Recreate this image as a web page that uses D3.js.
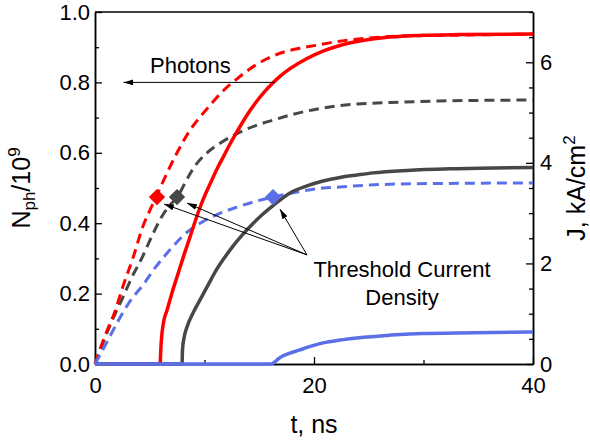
<!DOCTYPE html>
<html>
<head>
<meta charset="utf-8">
<script src="https://cdn.jsdelivr.net/npm/d3@7"></script>
<style>
  body { margin: 0; background: #fff; }
  svg text { font-family: "Liberation Sans", Arial, sans-serif; }
</style>
</head>
<body>
<div id="chart"></div>
<script>
// current density J (kA/cm2, right axis) - dashed curves, [t, J]
const jRed = [[0,0],[0.91,0.56],[1.83,1.05],[2.56,1.55],[3.47,2.11],[4.38,2.74],[5.02,3.06],[5.66,3.36],
  [6.58,3.80],[7.49,4.20],[8.68,4.65],[9.59,4.91],[10.68,5.19],[11.69,5.43],[12.97,5.67],[14.16,5.87],
  [15.71,6.07],[17.17,6.20],[18.72,6.28],[20.27,6.34],[21.74,6.40],[24.84,6.48],[27.85,6.52],[33.06,6.54],[40,6.56]];
const jGray = [[0,0],[0.73,0.42],[1.55,0.86],[2.47,1.29],[3.38,1.73],[4.29,2.11],[5.21,2.55],[6.12,2.94],
  [6.85,3.16],[7.58,3.34],[8.22,3.60],[8.95,3.88],[10.23,4.20],[11.42,4.39],[13.24,4.61],[14.79,4.75],
  [16.26,4.85],[17.81,4.95],[19.36,5.03],[20.82,5.09],[23.93,5.17],[26.94,5.20],[31.51,5.23],[40,5.25]];
const jBlue = [[0,0],[0.46,0.18],[1.10,0.44],[2.10,0.85],[3.20,1.25],[4.38,1.57],[5.48,1.91],[6.85,2.27],
  [8.40,2.62],[9.77,2.82],[11.23,2.98],[12.97,3.12],[14.43,3.22],[16.26,3.32],[18.45,3.42],[20.82,3.50],
  [22.37,3.52],[25.11,3.56],[27.85,3.58],[31.51,3.59],[40,3.60]];

// photon number N/10^9 (left axis) - solid curves, [t, N]
const nRed = [[0,0],[5.94,0],[6.03,0.054],[6.12,0.088],[6.30,0.125],[6.58,0.153],[7.03,0.202],[7.58,0.256],
  [8.13,0.310],[8.68,0.361],[9.22,0.412],[9.86,0.466],[10.50,0.511],[11.14,0.554],[11.78,0.592],
  [12.33,0.625],[12.97,0.660],[13.52,0.689],[14.16,0.720],[14.79,0.747],[15.53,0.775],[16.26,0.799],
  [17.0,0.820],[17.81,0.839],[19.36,0.868],[20.82,0.889],[22.37,0.905],[23.93,0.916],[26.94,0.929],
  [29.95,0.934],[33.33,0.936],[40,0.9375]];
const nGray = [[0,0],[7.95,0],[7.99,0.040],[8.13,0.074],[8.40,0.105],[8.95,0.145],[9.59,0.182],[10.32,0.224],
  [11.14,0.270],[11.87,0.304],[12.60,0.335],[13.52,0.369],[14.43,0.399],[15.34,0.426],[16.26,0.450],
  [17.81,0.486],[19.36,0.506],[20.82,0.520],[22.37,0.530],[23.93,0.537],[25.39,0.543],[28.49,0.550],
  [33.06,0.555],[40,0.558]];
const nBlue = [[0,0],[16.07,0],[16.44,0.006],[16.71,0.014],[17.17,0.023],[17.81,0.031],[18.72,0.040],
  [19.36,0.047],[20.82,0.060],[22.37,0.068],[23.93,0.074],[26.94,0.082],[29.95,0.087],[33.06,0.088],[40,0.091]];

// threshold current density points
const thresholdT = [5.66, 7.49, 16.26];
const thresholdJ = 3.32;

const xTicks = [0, 20, 40];
const yLeftTicks = [0, 0.2, 0.4, 0.6, 0.8, 1.0];
const yRightTicks = [0, 2, 4, 6];

const colRed = "#ff0000", colGray = "#474747", colBlue = "#5b70e8";

const W = 590, H = 446;
const margin = { top: 12, right: 57, bottom: 82, left: 95 };
const width = W - margin.left - margin.right,
  height = H - margin.top - margin.bottom;

const svg = d3.select("#chart").append("svg")
  .attr("width", W).attr("height", H);

const defs = svg.append("defs");
defs.append("marker")
  .attr("id", "arrow")
  .attr("viewBox", "0 0 10 6")
  .attr("refX", 10).attr("refY", 3)
  .attr("markerWidth", 10).attr("markerHeight", 6)
  .attr("markerUnits", "userSpaceOnUse")
  .attr("orient", "auto")
  .append("path")
  .attr("d", "M0,0L10,3L0,6Z")
  .attr("fill", "#000");

const g = svg.append("g")
  .attr("transform", "translate(" + margin.left + "," + margin.top + ")");

const x = d3.scaleLinear().domain([0, 40]).range([0, width]);
const yL = d3.scaleLinear().domain([0, 1]).range([height, 0]);
const yR = d3.scaleLinear().domain([0, 7]).range([height, 0]);

// frame line on top
g.append("line").attr("x1", 0).attr("x2", width).attr("y1", 0).attr("y2", 0)
  .attr("stroke", "#000").attr("stroke-width", 1.5);

function styleAxis(sel) {
  sel.selectAll("path.domain").attr("stroke", "#000").attr("stroke-width", 1.5);
  sel.selectAll(".tick line").attr("stroke", "#000").attr("stroke-width", 1.3);
  sel.selectAll("text").attr("font-size", 22).attr("fill", "#000")
    .style("font-family", "'Liberation Sans', Arial, sans-serif");
}

// minor ticks first
g.append("g").attr("transform", "translate(0," + height + ")")
  .call(d3.axisBottom(x).tickValues([10, 30]).tickSize(-4).tickFormat("").tickSizeOuter(0))
  .call(styleAxis);
g.append("g")
  .call(d3.axisLeft(yL).tickValues(d3.range(0.1, 1, 0.2)).tickSize(-4).tickFormat("").tickSizeOuter(0))
  .call(styleAxis);
g.append("g").attr("transform", "translate(" + width + ",0)")
  .call(d3.axisRight(yR).tickValues(d3.range(0.5, 7.01, 0.5).filter(v => v % 2 !== 0)).tickSize(-4).tickFormat("").tickSizeOuter(0))
  .call(styleAxis);

// major axes
g.append("g").attr("transform", "translate(0," + height + ")")
  .call(d3.axisBottom(x).tickValues(xTicks).tickSize(-7).tickPadding(13).tickSizeOuter(0).tickFormat(d3.format("d")))
  .call(styleAxis);
g.append("g")
  .call(d3.axisLeft(yL).tickValues(yLeftTicks).tickSize(-7).tickPadding(5).tickSizeOuter(0).tickFormat(d3.format(".1f")))
  .call(styleAxis);
g.append("g").attr("transform", "translate(" + width + ",0)")
  .call(d3.axisRight(yR).tickValues(yRightTicks).tickSize(-7).tickPadding(7).tickSizeOuter(0).tickFormat(d3.format("d")))
  .call(styleAxis);

// curves
const lineJ = d3.line().x(d => x(d[0])).y(d => yR(d[1])).curve(d3.curveMonotoneX);
const lineN = d3.line().x(d => x(d[0])).y(d => yL(d[1])).curve(d3.curveMonotoneX);

const dashed = [[jGray, colGray], [jRed, colRed], [jBlue, colBlue]];
dashed.forEach(function (s) {
  g.append("path").datum(s[0])
    .attr("fill", "none").attr("stroke", s[1]).attr("stroke-width", 3)
    .attr("stroke-dasharray", "10,6")
    .attr("d", lineJ);
});

const solid = [[nRed, colRed], [nGray, colGray], [nBlue, colBlue]];
solid.forEach(function (s) {
  g.append("path").datum(s[0])
    .attr("fill", "none").attr("stroke", s[1]).attr("stroke-width", 3.5)
    .attr("stroke-linejoin", "round")
    .attr("d", lineN);
});

// threshold diamonds
const diamondCols = [colRed, colGray, colBlue];
g.selectAll(".thr").data(thresholdT).enter().append("path")
  .attr("class", "thr")
  .attr("transform", d => "translate(" + x(d) + "," + yR(thresholdJ) + ")")
  .attr("d", d3.symbol().type(d3.symbolDiamond2).size(170))
  .attr("fill", (d, i) => diamondCols[i]);

// annotations
g.append("line")
  .attr("x1", x(16.4)).attr("y1", yL(0.8))
  .attr("x2", x(2.6)).attr("y2", yL(0.8))
  .attr("stroke", "#000").attr("stroke-width", 1)
  .attr("marker-end", "url(#arrow)");
g.append("text")
  .attr("x", x(5.02)).attr("y", yL(0.828))
  .attr("font-size", 22).text("Photons");

const arrowFrom = [19.36, 2.17];
const arrowTo = [[6.3, 3.18], [8.4, 3.2], [16.89, 3.08]];
arrowTo.forEach(function (p) {
  g.append("line")
    .attr("x1", x(arrowFrom[0])).attr("y1", yR(arrowFrom[1]))
    .attr("x2", x(p[0])).attr("y2", yR(p[1]))
    .attr("stroke", "#000").attr("stroke-width", 1)
    .attr("marker-end", "url(#arrow)");
});
g.append("text")
  .attr("x", x(28.04)).attr("y", yR(1.73))
  .attr("text-anchor", "middle").attr("font-size", 22).text("Threshold Current");
g.append("text")
  .attr("x", x(28.04)).attr("y", yR(1.17))
  .attr("text-anchor", "middle").attr("font-size", 22).text("Density");

// axis titles
svg.append("text")
  .attr("x", margin.left + width / 2).attr("y", 433)
  .attr("text-anchor", "middle").attr("font-size", 25).text("t, ns");

const yt = svg.append("text")
  .attr("transform", "translate(30," + (margin.top + height / 2) + ") rotate(-90)")
  .attr("text-anchor", "middle").attr("font-size", 25);
yt.append("tspan").text("N");
yt.append("tspan").attr("font-size", 17).attr("dy", 5).text("ph");
yt.append("tspan").attr("dy", -5).text("/10");
yt.append("tspan").attr("font-size", 17).attr("dy", -10).text("9");

const yt2 = svg.append("text")
  .attr("transform", "translate(585," + (margin.top + height / 2) + ") rotate(-90)")
  .attr("text-anchor", "middle").attr("font-size", 25);
yt2.append("tspan").text("J, kA/cm");
yt2.append("tspan").attr("font-size", 17).attr("dy", -10).text("2");
</script>
</body>
</html>
